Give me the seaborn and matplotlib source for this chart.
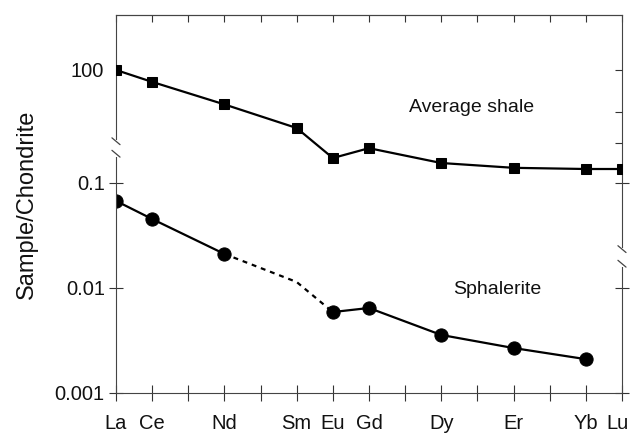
import matplotlib
matplotlib.use("Agg")
import matplotlib.pyplot as plt
import matplotlib.transforms as mtransforms
import numpy as np
import pandas as pd
import seaborn as sns
from matplotlib.ticker import NullLocator

sns.set_style("ticks")
plt.rcParams["font.family"] = ["Liberation Sans", "DejaVu Sans"]

# REE order on the x axis (every element gets a tick, only some are labelled)
elements = ["La", "Ce", "Pr", "Nd", "Pm", "Sm", "Eu", "Gd", "Tb", "Dy", "Ho", "Er", "Tm", "Yb", "Lu"]
shown_labels = ["La", "Ce", "", "Nd", "", "Sm", "Eu", "Gd", "", "Dy", "", "Er", "", "Yb", "Lu"]

# average shale (upper panel)
shale_el = ["La", "Ce", "Nd", "Sm", "Eu", "Gd", "Dy", "Er", "Yb", "Lu"]
shale_val = [100, 77, 47, 28, 14.5, 18, 13, 11.7, 11.4, 11.4]

# sphalerite (lower panel), solid - dashed - solid
sph_el_a = ["La", "Ce", "Nd"]
sph_val_a = [0.0675, 0.0454, 0.0211]
sph_el_dash = ["Nd", "Sm", "Eu"]
sph_val_dash = [0.0211, 0.0114, 0.0059]
sph_el_b = ["Eu", "Gd", "Dy", "Er", "Yb"]
sph_val_b = [0.0059, 0.00645, 0.00357, 0.00268, 0.0021]


def pos(names):
    return [elements.index(n) for n in names]


fig = plt.figure(figsize=(6.31, 4.33), dpi=100)
ax = fig.add_axes([0.1838, 0.0924, 0.8019, 0.873])
ax2 = ax.twinx()

line_kw = dict(color="black", linewidth=1.6, estimator=None, legend=False)

# shale
sns.lineplot(x=pos(shale_el), y=shale_val, ax=ax2, marker="s", markersize=7.5,
             markeredgecolor="black", markerfacecolor="black", **line_kw)

# sphalerite
sns.lineplot(x=pos(sph_el_a), y=sph_val_a, ax=ax, marker="o", markersize=9.5,
             markeredgecolor="black", markerfacecolor="black", **line_kw)
sns.lineplot(x=pos(sph_el_dash), y=sph_val_dash, ax=ax, dashes=False, **line_kw)
ax.lines[-1].set_linestyle((0, (2.2, 2.2)))
sns.lineplot(x=pos(sph_el_b), y=sph_val_b, ax=ax, marker="o", markersize=9.5,
             markeredgecolor="black", markerfacecolor="black", **line_kw)

# scales
ax.set_yscale("log")
ax.set_ylim(0.001, 3.98)
ax2.set_yscale("log")
ax2.set_ylim(0.0839, 334)
ax.set_xlim(0, len(elements) - 1)

ax.set_yticks([0.001, 0.01, 0.1])
ax.set_yticklabels(["0.001", "0.01", "0.1"])
ax.yaxis.set_minor_locator(NullLocator())
ax.tick_params(axis="y", which="both", direction="inout", length=10, width=0.8,
               left=True, right=True, labelsize=14.5, pad=3, colors="#333333",
               labelcolor="#111111")

ax2.set_yticks([100, 40, 20])
ax2.set_yticklabels(["100", "", ""])
ax2.yaxis.set_minor_locator(NullLocator())
ax2.tick_params(axis="y", which="both", direction="in", length=5, width=0.8,
                left=False, right=True, labelleft=True, labelright=False,
                labelsize=14.5, pad=9, colors="#333333", labelcolor="#111111")

ax.set_xticks(range(len(elements)))
ax.set_xticklabels(shown_labels)
ax.tick_params(axis="x", direction="inout", length=12, width=0.8, labelsize=14.5,
               pad=9, colors="#333333", labelcolor="#111111")

# keep "Lu" inside the canvas
lu = ax.get_xticklabels()[-1]
lu.set_transform(lu.get_transform() +
                 mtransforms.ScaledTranslation(-3 / 72, 0, fig.dpi_scale_trans))

top = ax.secondary_xaxis("top")
top.set_xticks(range(len(elements)))
top.tick_params(axis="x", direction="in", length=5, width=0.8, labeltop=False,
                colors="#333333")
top.spines["top"].set_linewidth(0.8)
top.spines["top"].set_color("#444444")

for sp in ax.spines.values():
    sp.set_linewidth(0.8)
    sp.set_color("#444444")
for sp in ax2.spines.values():
    sp.set_visible(False)

ax.set_ylabel("Sample/Chondrite", fontsize=17, labelpad=12, color="#111111")
ax2.set_ylabel("")

# annotations
ax2.text(9.85, 43.5, "Average shale", fontsize=14, ha="center", va="center",
         color="#111111")
ax.text(10.54, 0.0096, "Sphalerite", fontsize=14, ha="center", va="center",
        color="#111111")


# axis break marks
def axis_break(x, y_hi, y_lo):
    ax.plot([x, x], [y_lo, y_hi], transform=ax.transAxes, color="white",
            linewidth=3, clip_on=False, zorder=5, solid_capstyle="butt")
    for yy in (y_hi, y_lo + 0.012):
        ax.plot([x - 0.008, x + 0.008], [yy + 0.006, yy - 0.012], transform=ax.transAxes,
                color="#444444", linewidth=0.9, clip_on=False, zorder=6)


axis_break(0.0, 0.669, 0.624)
axis_break(1.0, 0.3836, 0.333)

fig.savefig("out.png", dpi=100)
